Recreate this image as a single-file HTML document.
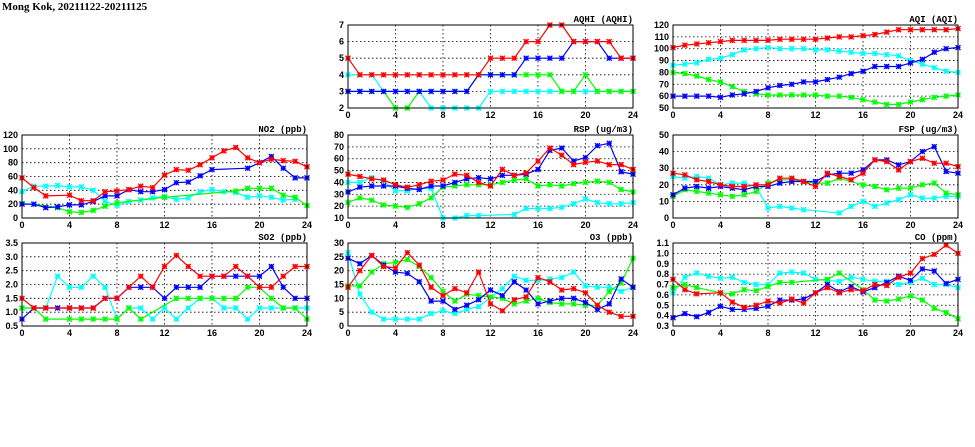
<!DOCTYPE html>
<html><head><meta charset="utf-8"><style>
html,body{margin:0;padding:0;background:#fff;}
svg{display:block;font-family:"Liberation Sans",sans-serif;}
</style></head><body>
<svg id="c" width="975" height="447">
<text x="2" y="10" font-size="11" font-weight="bold" font-family="Liberation Serif, serif">Mong Kok, 20211122-20211125</text>
</svg>
<script>
const hours = [0,1,2,3,4,5,6,7,8,9,10,11,12,13,14,15,16,17,18,19,20,21,22,23,24];
const xTicks = [0,4,8,12,16,20,24];
const N = null;
// AQHI
const aqhiRed   = [5,4,4,4,4,4,4,4,4,4,4,4,5,5,5,6,6,7,7,6,6,6,6,5,5];
const aqhiBlue  = [3,3,3,3,3,3,3,3,3,3,3,4,4,4,4,5,5,5,5,6,6,6,5,5,5];
const aqhiGreen = [3,3,3,3,2,2,3,3,3,3,3,4,4,4,4,4,4,4,3,3,4,3,3,3,3];
const aqhiCyan  = [4,4,4,3,3,3,3,2,2,2,2,2,3,3,3,3,3,3,3,3,3,3,3,3,3];
const aqhiTicks = [2,3,4,5,6,7];
// AQI
const aqiRed   = [101,103,104,105,106,107,107,107,107,108,108,108,108,109,110,110,111,112,114,116,116,116,116,116,117];
const aqiBlue  = [60,60,60,60,59,61,62,64,67,69,70,72,72,74,76,79,81,85,85,85,88,91,97,100,101];
const aqiGreen = [80,79,77,74,72,68,64,62,61,61,61,61,61,60,60,59,57,55,53,53,55,57,59,60,61];
const aqiCyan  = [86,87,88,91,92,95,99,100,101,100,100,100,99,99,98,97,96,96,95,94,90,87,84,81,80];
const aqiTicks = [50,60,70,80,90,100,110,120];
// NO2
const no2Red   = [58,44,32,N,33,25,25,38,39,41,46,44,62,70,69,77,87,97,102,87,80,85,83,82,74];
const no2Blue  = [20,20,15,16,19,19,24,32,32,41,38,38,41,51,52,61,70,N,N,72,80,89,72,58,58];
const no2Green = [21,20,N,15,9,8,11,17,22,N,N,N,30,N,N,N,N,N,39,43,43,43,33,30,18];
const no2Cyan  = [38,46,46,47,45,45,40,24,18,24,26,29,31,27,29,38,41,38,37,30,32,30,26,27,N];
const no2Ticks = [0,20,40,60,80,100,120];
// RSP
const rspRed   = [47,45,43,42,38,36,38,41,42,47,46,40,37,51,46,48,58,69,63,55,57,58,55,55,51];
const rspBlue  = [32,36,37,37,37,35,34,37,37,40,43,44,43,46,46,47,51,67,69,58,61,71,73,49,47];
const rspGreen = [23,27,25,21,20,19,22,27,36,37,38,38,38,40,42,43,37,38,37,39,40,41,40,34,32];
const rspCyan  = [40,40,44,41,33,33,35,35,10,10,12,12,N,N,13,18,18,18,19,22,26,23,22,22,23];
const rspTicks = [10,20,30,40,50,60,70,80];
// FSP
const fspRed   = [27,26,23,22,20,19,19,20,20,24,24,22,19,27,25,23,27,35,34,29,34,36,33,33,31];
const fspBlue  = [14,18,19,18,19,18,17,19,19,21,22,22,22,26,27,27,29,35,35,32,34,40,43,28,27];
const fspGreen = [13,17,16,15,14,13,14,16,21,23,23,22,21,21,24,N,20,19,17,18,18,20,21,15,14];
const fspCyan  = [25,24,25,24,20,21,21,19,6,7,6,5,N,N,3,7,10,7,9,11,14,12,12,13,13];
const fspTicks = [0,10,20,30,40,50];
// SO2
const so2Red   = [1.5,1.15,1.15,N,1.15,1.15,1.15,1.5,1.5,1.9,2.3,1.9,2.65,3.05,2.65,2.3,2.3,2.3,2.65,2.3,1.9,1.9,2.3,2.65,2.65];
const so2Blue  = [0.75,1.15,1.15,1.15,1.15,1.15,1.15,1.5,1.5,1.9,1.9,1.9,1.5,1.9,1.9,1.9,2.3,2.3,2.3,2.3,2.3,2.65,1.9,1.5,1.5];
const so2Green = [1.15,1.15,0.75,N,0.75,0.75,0.75,0.75,0.75,1.15,0.75,N,N,1.5,1.5,1.5,1.5,1.5,1.5,1.9,1.9,1.5,1.15,1.15,0.75];
const so2Cyan  = [1.15,1.15,1.15,2.3,1.9,1.9,2.3,1.9,0.75,1.15,1.15,0.75,1.15,0.75,1.15,1.5,1.5,1.15,1.15,0.75,1.15,1.15,1.15,1.15,1.15];
const so2Ticks = [0.5,1.0,1.5,2.0,2.5,3.0,3.5];
// O3
const o3Red   = [14,20,25.5,21.5,21,26.5,22,14,11,13.5,12,19.5,8,5.5,9.5,10.5,17.5,16,13,13.5,12,7.5,5,3.5,3.5];
const o3Blue  = [24.5,22.5,25.5,22,19.5,19,16,9,9,6,7.5,9.5,13,11,16,13,8,9,10,10,8.5,6,8,17,14];
const o3Green = [14.5,14.5,19.5,22.5,23,24,21.5,17.5,12.5,9,11.5,11,10.5,10,8,9,10,8.5,8,8,7.5,7.5,12.5,15.5,24.5];
const o3Cyan  = [26.5,11.5,5,2.5,2.5,2.5,2.5,4.5,5.5,4.5,6,7,N,13.5,18,16.5,16.5,17,17.5,19.5,14.5,14,14,12.5,14];
const o3Ticks = [0,5,10,15,20,25,30];
// CO
const coRed   = [.75,.65,.61,N,.62,.53,.48,.50,.54,.52,.56,.52,.62,.67,.62,.65,.64,.70,.69,.77,.81,.95,.99,1.08,1.0];
const coBlue  = [.38,.42,.39,.43,.49,.46,.46,.47,.49,.55,.55,.56,.62,.70,.63,.68,.63,.67,.72,.78,.74,.85,.83,.71,.75];
const coGreen = [.67,.70,.67,N,.62,.61,.65,.64,.68,.72,.72,N,N,.75,.81,N,.65,.55,.54,.56,.59,.55,.47,.43,.37];
const coCyan  = [.62,.77,.81,.78,.76,.77,.72,.70,.70,.81,.82,.81,.75,.74,.73,.77,.75,.73,.73,.70,.72,.76,.70,.70,.67];
const coTicks = [0.3,0.4,0.5,0.6,0.7,0.8,0.9,1.0,1.1];

const panels = [
 {name:'aqhi',title:'AQHI (AQHI)',l:348,t:25,ticks:aqhiTicks,dec:0,s:[aqhiCyan,aqhiGreen,aqhiBlue,aqhiRed]},
 {name:'aqi',title:'AQI (AQI)',l:673,t:25,ticks:aqiTicks,dec:0,s:[aqiCyan,aqiGreen,aqiBlue,aqiRed]},
 {name:'no2',title:'NO2 (ppb)',l:22,t:135,ticks:no2Ticks,dec:0,s:[no2Cyan,no2Green,no2Blue,no2Red]},
 {name:'rsp',title:'RSP (ug/m3)',l:348,t:135,ticks:rspTicks,dec:0,s:[rspCyan,rspGreen,rspBlue,rspRed]},
 {name:'fsp',title:'FSP (ug/m3)',l:673,t:135,ticks:fspTicks,dec:0,s:[fspCyan,fspGreen,fspBlue,fspRed]},
 {name:'so2',title:'SO2 (ppb)',l:22,t:243,ticks:so2Ticks,dec:1,s:[so2Cyan,so2Green,so2Blue,so2Red]},
 {name:'o3',title:'O3 (ppb)',l:348,t:243,ticks:o3Ticks,dec:0,s:[o3Cyan,o3Green,o3Blue,o3Red]},
 {name:'co',title:'CO (ppm)',l:673,t:243,ticks:coTicks,dec:1,s:[coCyan,coGreen,coBlue,coRed]},
];
const colors = ['#00ffff','#00ff00','#0000ff','#ff0000'];
const seriesNames = ['cyan','green','blue','red'];
const W = 285, H = 83;
const NS = 'http://www.w3.org/2000/svg';
const svg = document.getElementById('c');
function mk(tag, attrs, parent){const e=document.createElementNS(NS,tag);for(const k in attrs)e.setAttribute(k,attrs[k]);parent.appendChild(e);return e;}

panels.forEach(p=>{
  const g = mk('g',{},svg);
  
  
  const ymin=p.ticks[0], ymax=p.ticks[p.ticks.length-1];
  const xs = h => p.l + h/24*W;
  const ys = v => p.t + H - (v-ymin)/(ymax-ymin)*H;
  // grid
  p.ticks.forEach((v,i)=>{
    if(i>0 && i<p.ticks.length-1){
      const ln = mk('line',{x1:p.l,x2:p.l+W,y1:ys(v),y2:ys(v),stroke:'#000','stroke-width':0.8,'stroke-dasharray':'1.5,2.5'},g);
      
      
    }
    const t = mk('text',{x:p.l-4,y:ys(v)+3,'text-anchor':'end','font-size':9,'font-weight':'bold'},g);
    t.textContent = v.toFixed(p.dec);
    
    
  });
  xTicks.forEach((h,i)=>{
    if(i>0 && i<xTicks.length-1){
      const ln = mk('line',{x1:xs(h),x2:xs(h),y1:p.t,y2:p.t+H,stroke:'#000','stroke-width':0.8,'stroke-dasharray':'1.5,2.5'},g);
      
      
    }
    const t = mk('text',{x:xs(h),y:p.t+H+10,'text-anchor':'middle','font-size':9,'font-weight':'bold'},g);
    t.textContent = h;
    
    
  });
  const ttl = mk('text',{x:p.l+W,y:p.t-3,'text-anchor':'end','font-size':9,'font-weight':'bold','font-family':'Liberation Mono, monospace'},g);
  ttl.textContent = p.title;
  
  
  // series
  p.s.forEach((arr,si)=>{
    const pts = [];
    hours.forEach((h,i)=>{ if(arr[i]!==null) pts.push([xs(h),ys(arr[i])]); });
    const pl = mk('polyline',{points:pts.map(q=>q[0].toFixed(1)+','+q[1].toFixed(1)).join(' '),fill:'none',stroke:colors[si],'stroke-width':1.2},g);
    
    
    pts.forEach(q=>{
      const d=2.5;
      const m = mk('path',{d:`M${q[0]-d},${q[1]-d}L${q[0]+d},${q[1]+d}M${q[0]-d},${q[1]+d}L${q[0]+d},${q[1]-d}M${q[0]},${q[1]-d}L${q[0]},${q[1]+d}M${q[0]-d},${q[1]}L${q[0]+d},${q[1]}`,stroke:colors[si],'stroke-width':1.3,fill:'none'},g);
      
      
    });
  });
  const b = mk('rect',{x:p.l,y:p.t,width:W,height:H,fill:'none',stroke:'#000','stroke-width':1},g);
  
  
});
</script>
</body></html>
